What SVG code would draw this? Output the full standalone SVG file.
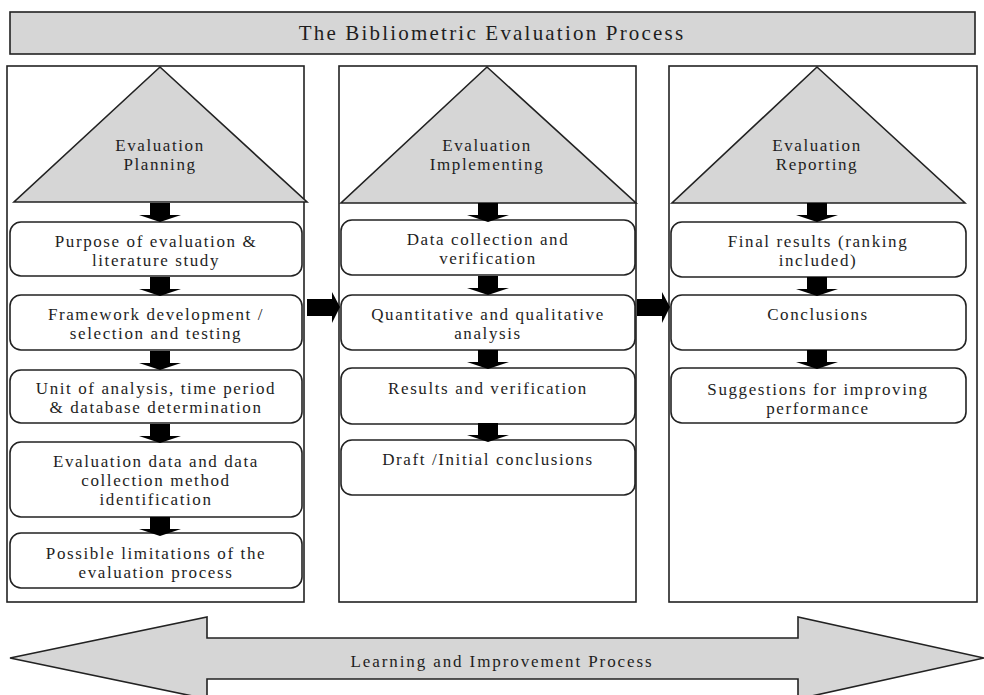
<svg xmlns="http://www.w3.org/2000/svg" width="984" height="695" viewBox="0 0 984 695">
<style>
.bg{fill:#ffffff}
.gray{fill:#d6d6d6;stroke:#222;stroke-width:1.6}
.col{fill:#ffffff;stroke:#222;stroke-width:1.6}
.box{fill:#ffffff;stroke:#222;stroke-width:1.6}
.arr{fill:#000}
text{font-family:"Liberation Serif","Times New Roman",serif;fill:#1e1e1e;text-anchor:middle}
.t{font-size:17px;letter-spacing:1.6px}
.title{font-size:21px;letter-spacing:2.2px}
.low{font-size:17px;letter-spacing:1.9px}
</style>
<rect class="bg" x="0" y="0" width="984" height="695"/>
<g id="title">
<rect class="gray" x="10" y="12" width="965" height="42"/>
<text class="title" x="492" y="40">The Bibliometric Evaluation Process</text>
</g>
<g id="col-planning">
<rect class="col" x="7" y="66" width="297" height="536"/>
<polygon class="gray" points="160,67 14,202 307,202"/>
<text class="t" x="160" y="151">Evaluation</text>
<text class="t" x="160" y="170">Planning</text>
</g>
<g id="col-implementing">
<rect class="col" x="339" y="66" width="297" height="536"/>
<polygon class="gray" points="487,67 341,203 636,203"/>
<text class="t" x="487" y="151">Evaluation</text>
<text class="t" x="487" y="170">Implementing</text>
</g>
<g id="col-reporting">
<rect class="col" x="669" y="66" width="308" height="536"/>
<polygon class="gray" points="817,67 672,203 965,203"/>
<text class="t" x="817" y="151">Evaluation</text>
<text class="t" x="817" y="170">Reporting</text>
</g>
<g id="p1"><rect class="box" x="10" y="222" width="292" height="54" rx="11"/>
<text class="t" x="156" y="247">Purpose of evaluation &amp;</text>
<text class="t" x="156" y="266">literature study</text></g>
<g id="p2"><rect class="box" x="10" y="295" width="292" height="55" rx="11"/>
<text class="t" x="156" y="320">Framework development /</text>
<text class="t" x="156" y="339">selection and testing</text></g>
<g id="p3"><rect class="box" x="10" y="370" width="292" height="53" rx="11"/>
<text class="t" x="156" y="394">Unit of analysis, time period</text>
<text class="t" x="156" y="413">&amp; database determination</text></g>
<g id="p4"><rect class="box" x="10" y="442" width="292" height="75" rx="11"/>
<text class="t" x="156" y="467">Evaluation data and data</text>
<text class="t" x="156" y="486">collection method</text>
<text class="t" x="156" y="505">identification</text></g>
<g id="p5"><rect class="box" x="10" y="533" width="292" height="55" rx="11"/>
<text class="t" x="156" y="559">Possible limitations of the</text>
<text class="t" x="156" y="578">evaluation process</text></g>
<g id="i1"><rect class="box" x="341" y="220" width="294" height="55" rx="11"/>
<text class="t" x="488" y="245">Data collection and</text>
<text class="t" x="488" y="264">verification</text></g>
<g id="i2"><rect class="box" x="341" y="295" width="294" height="55" rx="11"/>
<text class="t" x="488" y="320">Quantitative and qualitative</text>
<text class="t" x="488" y="339">analysis</text></g>
<g id="i3"><rect class="box" x="341" y="368" width="294" height="56" rx="11"/>
<text class="t" x="488" y="394">Results and verification</text></g>
<g id="i4"><rect class="box" x="341" y="440" width="294" height="55" rx="11"/>
<text class="t" x="488" y="465">Draft /Initial conclusions</text></g>
<g id="r1"><rect class="box" x="671" y="222" width="295" height="55" rx="11"/>
<text class="t" x="818" y="247">Final results (ranking</text>
<text class="t" x="818" y="266">included)</text></g>
<g id="r2"><rect class="box" x="671" y="295" width="295" height="55" rx="11"/>
<text class="t" x="818" y="320">Conclusions</text></g>
<g id="r3"><rect class="box" x="671" y="368" width="295" height="55" rx="11"/>
<text class="t" x="818" y="395">Suggestions for improving</text>
<text class="t" x="818" y="414">performance</text></g>
<g id="learning">
<polygon class="gray" points="10,658 207,617 207,638 798,638 798,617 984,658 798,699 798,679 207,679 207,699"/>
<text class="low" x="502" y="667">Learning and Improvement Process</text>
</g>
<defs>
<polygon id="dn" points="-10,0 10,0 10,12 21,12 0,19 -21,12 -10,12"/>
<polygon id="rt" points="0,-8 25,-8 25,-15 33,0 25,16 25,9 0,9"/>
</defs>
<g id="connectors">
<use href="#dn" class="arr" x="160" y="203"/>
<use href="#dn" class="arr" x="160" y="277"/>
<use href="#dn" class="arr" x="160" y="351"/>
<use href="#dn" class="arr" x="160" y="424"/>
<use href="#dn" class="arr" x="160" y="517"/>
<use href="#dn" class="arr" x="488" y="203"/>
<use href="#dn" class="arr" x="488" y="276"/>
<use href="#dn" class="arr" x="488" y="350"/>
<use href="#dn" class="arr" x="488" y="423"/>
<use href="#dn" class="arr" x="817" y="203"/>
<use href="#dn" class="arr" x="817" y="277"/>
<use href="#dn" class="arr" x="817" y="350"/>
<use href="#rt" class="arr" x="307" y="307"/>
<use href="#rt" class="arr" x="637" y="307"/>
</g>
</svg>
